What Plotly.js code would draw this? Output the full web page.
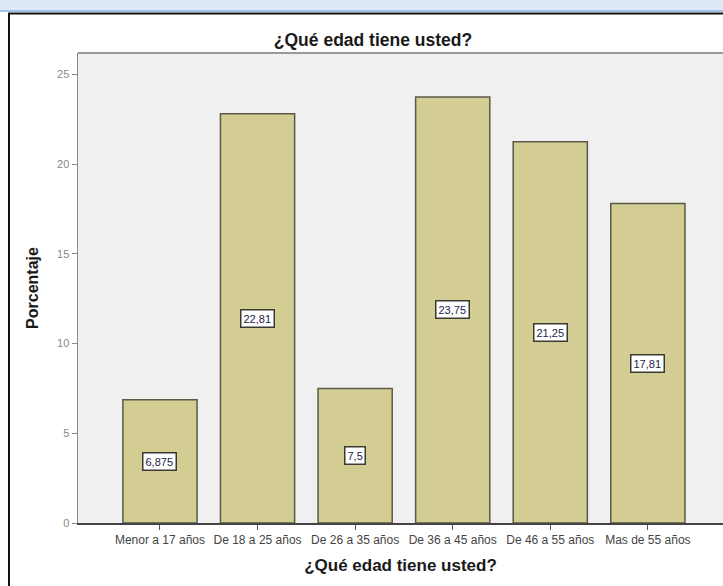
<!DOCTYPE html>
<html>
<head>
<meta charset="utf-8">
<script src="https://cdn.plot.ly/plotly-3.0.1.min.js"></script>
<style>html,body{margin:0;padding:0;background:#fff;}#chart{width:723px;height:586px;}</style>
</head>
<body>
<div id="chart"></div>
<script>
const categories = ["Menor a 17 años", "De 18 a 25 años", "De 26 a 35 años", "De 36 a 45 años", "De 46 a 55 años", "Mas de 55 años"];
const percentages = [6.875, 22.81, 7.5, 23.75, 21.25, 17.81];
const valueLabels = ["6,875", "22,81", "7,5", "23,75", "21,25", "17,81"];
const yTicks = [0, 5, 10, 15, 20, 25];

const idx = categories.map((c, i) => i);

const trace = {
  type: "bar",
  x: idx,
  y: percentages,
  marker: {color: "#d3cd93", line: {color: "#5a5a48", width: 1.5}},
  hoverinfo: "skip"
};

const annotations = idx.map(i => ({
  x: i, y: percentages[i] / 2, xref: "x", yref: "y",
  text: valueLabels[i], showarrow: false,
  font: {family: "Liberation Sans, Arial, sans-serif", size: 11, color: "#22224a"},
  bgcolor: "#ffffff", bordercolor: "#3a3a30", borderwidth: 1.5, borderpad: 2
}));

const layout = {
  width: 723, height: 586,
  margin: {l: 78, r: 0, t: 53, b: 63},
  paper_bgcolor: "#ffffff",
  plot_bgcolor: "#f0f0f0",
  bargap: 0.24,
  showlegend: false,
  font: {family: "Liberation Sans, Arial, sans-serif"},
  title: {
    text: "¿Qué edad tiene usted?",
    font: {family: "Liberation Sans, Arial, sans-serif", size: 17.5, color: "#1a1a1a", weight: "bold"},
    x: (373 - 78) / 645, xanchor: "center", xref: "paper",
    y: 1 - 40 / 586, yanchor: "middle", yref: "container"
  },
  xaxis: {
    range: [-0.84, 5.77],
    tickmode: "array", tickvals: idx, ticktext: categories,
    ticks: "outside", ticklen: 5, tickcolor: "#555", tickwidth: 1,
    tickfont: {family: "Liberation Sans, Arial, sans-serif", size: 12, color: "#444"},
    showline: true, linecolor: "#444", linewidth: 1.5,
    showgrid: false, zeroline: false, fixedrange: true,
    title: {text: "¿Qué edad tiene usted?", standoff: 13,
      font: {family: "Liberation Sans, Arial, sans-serif", size: 17, color: "#1a1a1a", weight: "bold"}}
  },
  yaxis: {
    range: [0, 26.2],
    tickmode: "array", tickvals: yTicks,
    ticks: "outside", ticklen: 5, tickcolor: "#888", tickwidth: 1,
    tickfont: {family: "Liberation Sans, Arial, sans-serif", size: 11, color: "#888"},
    showline: true, linecolor: "#888", linewidth: 1.5,
    showgrid: false, zeroline: false, fixedrange: true,
    title: {text: "Porcentaje", standoff: 14,
      font: {family: "Liberation Sans, Arial, sans-serif", size: 16, color: "#1a1a1a", weight: "bold"}}
  },
  annotations: annotations
};

// Outer decorations (pixel positions converted to paper coordinates)
const pw = 723 - 78, ph = 586 - 53 - 63;
function px(x) { return (x - 78) / pw; }
function py(y) { return (586 - 63 - y) / ph; }
layout.shapes = [
  {type: "rect", xref: "paper", yref: "paper", x0: px(0), x1: px(723), y0: py(0), y1: py(11), fillcolor: "#dde9f6", line: {width: 0}, layer: "below"},
  {type: "line", xref: "paper", yref: "paper", x0: px(0), x1: px(723), y0: py(11), y1: py(11), line: {color: "#9fc4ea", width: 2}},
  {type: "line", xref: "paper", yref: "paper", x0: px(8), x1: px(723), y0: py(13.5), y1: py(13.5), line: {color: "#111", width: 2}},
  {type: "line", xref: "paper", yref: "paper", x0: px(9), x1: px(9), y0: py(13), y1: py(586), line: {color: "#111", width: 2}},
  {type: "line", xref: "paper", yref: "paper", x0: 0, x1: 1, y0: 1, y1: 1, line: {color: "#999", width: 2}}
];

Plotly.newPlot("chart", [trace], layout, {displayModeBar: false, staticPlot: true});
</script>
</body>
</html>
